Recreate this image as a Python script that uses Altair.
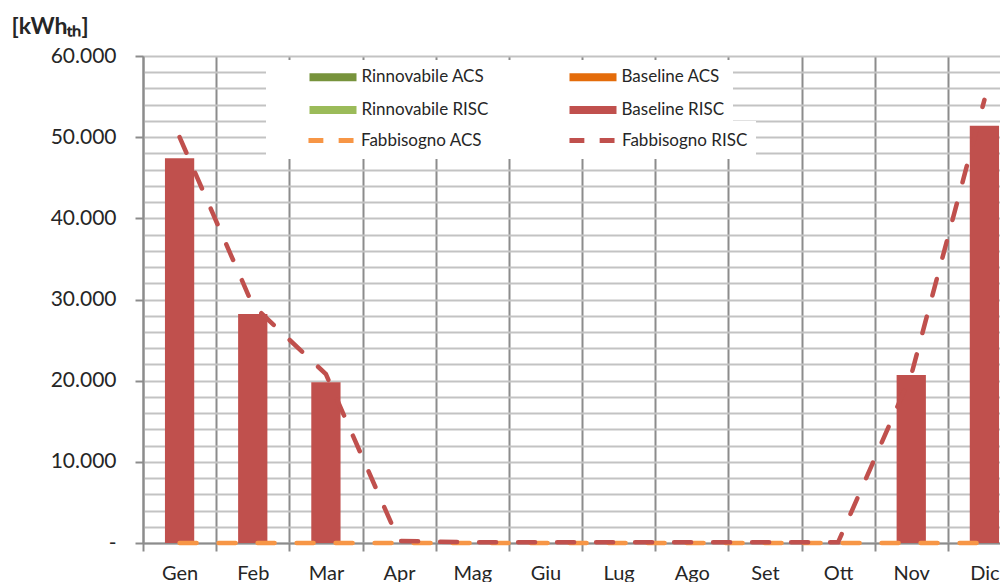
import altair as alt
import pandas as pd

months = ["Gen", "Feb", "Mar", "Apr", "Mag", "Giu", "Lug", "Ago", "Set", "Ott", "Nov", "Dic"]

rinnovabile_acs = [0, 0, 0, 0, 0, 0, 0, 0, 0, 0, 0, 0]
rinnovabile_risc = [0, 0, 0, 0, 0, 0, 0, 0, 0, 0, 0, 0]
baseline_acs = [0, 0, 0, 0, 0, 0, 0, 0, 0, 0, 0, 0]
baseline_risc = [47400, 28200, 19800, 0, 0, 0, 0, 0, 0, 0, 20700, 51400]
fabbisogno_acs = [0, 0, 0, 0, 0, 0, 0, 0, 0, 0, 0, 0]
fabbisogno_risc = [50000, 29300, 20800, 250, 80, 80, 80, 80, 80, 80, 20700, 54600]

# legend grid is filled column by column
bar_order = ["Rinnovabile ACS", "Rinnovabile RISC", "Baseline ACS", "Baseline RISC"]
bar_colors = ["#77933C", "#9BBB59", "#E46C0A", "#C0504D"]
line_order = ["Fabbisogno ACS", "Fabbisogno RISC"]
line_colors = ["#F79646", "#C0504D"]

bar_series = {
    "Rinnovabile ACS": rinnovabile_acs,
    "Rinnovabile RISC": rinnovabile_risc,
    "Baseline ACS": baseline_acs,
    "Baseline RISC": baseline_risc,
}
line_series = {
    "Fabbisogno ACS": fabbisogno_acs,
    "Fabbisogno RISC": fabbisogno_risc,
}

rows = []
for name, vals in bar_series.items():
    for m, v in zip(months, vals):
        rows.append({"mese": m, "serie": name, "valore": v, "tipo": "bar"})
for name, vals in line_series.items():
    for m, v in zip(months, vals):
        rows.append({"mese": m, "serie": name, "valore": v, "tipo": "line"})
df = pd.DataFrame(rows)

FONT = "Lato"
TXT = "#262626"
GRID_DARK = "#8C8C8C"
GRID_LIGHT = "#C3C3C3"

x_enc = alt.X(
    "mese:N", sort=months,
    scale=alt.Scale(paddingInner=0, paddingOuter=0, range=[0, 878]),
    axis=alt.Axis(
        title=None, labelAngle=0, tickBand="extent", grid=True,
        gridColor=GRID_DARK, gridWidth=2, domainColor=GRID_DARK, domainWidth=2,
        tickColor=GRID_DARK, tickWidth=2, tickSize=8,
        labelFont=FONT, labelFontSize=20, labelColor=TXT, labelPadding=12,
    ),
)

nbsp = "\u00a0"
y_axis = alt.Axis(
    title="[kWh\u209c\u2095]", titleAngle=0, titleAlign="left", titleBaseline="alphabetic",
    titleX=-132, titleY=-23, titleFont=FONT, titleFontSize=23, titleFontWeight="bold",
    titleColor=TXT,
    values=list(range(0, 60001, 2000)),
    labelExpr=("datum.value == 0 ? '-" + nbsp + nbsp + "' : (datum.value % 10000 == 0 ? "
               "replace(format(datum.value, ',.0f'), ',', '.') : '')"),
    labelOverlap=False, labelFont=FONT, labelFontSize=21, labelColor=TXT, labelPadding=19,
    grid=True, gridColor=GRID_LIGHT, gridWidth=2,
    domainColor=GRID_DARK, domainWidth=2, tickSize=8, tickWidth=2,
    tickColor={"condition": {"test": "datum.value % 10000 === 0", "value": GRID_DARK},
               "value": "transparent"},
)

legend_common = dict(
    orient="none", columns=2, padding=8.5, fillColor="white",
    labelFont=FONT, labelFontSize=17, labelColor=TXT, labelLimit=600,
    symbolSize=289, rowPadding=15,
    titleOrient="left", titleFontSize=2, titlePadding=35, titleAnchor="start",
)

fill_legend = alt.Legend(
    legendX=123, legendY=4, columnPadding=80, symbolOffset=15, labelOffset=20,
    symbolType="M-2.765,-0.47H2.765V0.47H-2.765Z", symbolStrokeWidth=0,
    labelExpr="datum.label + (indexof(datum.label, 'Baseline') == 0 ? '" + nbsp * 67 + "' : '')",
    title=[nbsp, nbsp, nbsp], titleLineHeight=37,
    **legend_common,
)
stroke_legend = alt.Legend(
    legendX=123, legendY=65, columnPadding=76, symbolOffset=10.5, labelOffset=19,
    symbolType="M-2.65,0H-0.9M0.9,0H2.65", symbolStrokeWidth=5,
    symbolDash=[100, 0], title=nbsp,
    **legend_common,
)

base = alt.Chart(df)

y_scale = alt.Scale(domain=[0, 60000], nice=False)

bars = base.transform_filter(alt.datum.tipo == "bar").mark_bar(
    width=alt.RelativeBandSize(0.4)
).encode(
    x=x_enc,
    y=alt.Y("valore:Q", stack="zero", scale=y_scale, axis=y_axis),
    fill=alt.Fill("serie:N", scale=alt.Scale(domain=bar_order, range=bar_colors),
                  legend=fill_legend),
    order=alt.Order("serie:N"),
)

lines = base.transform_filter(alt.datum.tipo == "line").mark_line(
    strokeDash=[17, 22], strokeWidth=4.5, strokeCap="round"
).encode(
    x=x_enc,
    y=alt.Y("valore:Q", stack=None, scale=y_scale, axis=y_axis),
    stroke=alt.Stroke("serie:N", scale=alt.Scale(domain=line_order, range=line_colors),
                      legend=stroke_legend),
)

chart = alt.layer(bars, lines).properties(
    width=857, height=487,
    autosize=alt.AutoSizeParams(type="none"),
    padding={"left": 135, "top": 48, "right": 0, "bottom": 40},
    background="white",
).configure_view(stroke=None)

chart.save("out.html", embed_options={"renderer": "svg", "actions": False})
